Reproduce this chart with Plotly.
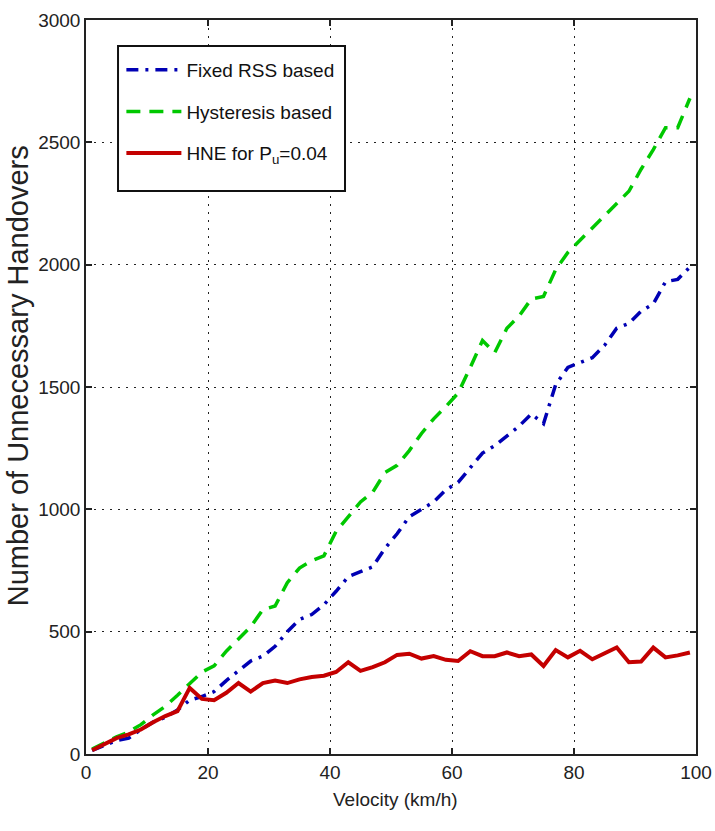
import plotly.graph_objects as go

velocity = list(range(1, 100, 2))

fixed_rss = [15, 35, 55, 65, 100, 130, 150, 180, 220, 235,
             255, 300, 340, 380, 400, 440, 500, 550, 570, 610,
             665, 725, 745, 765, 840, 900, 970, 1000, 1030, 1080,
             1110, 1170, 1230, 1260, 1300, 1340, 1390, 1350, 1510, 1580,
             1600, 1620, 1670, 1740, 1760, 1810, 1840, 1930, 1940, 1990]

hysteresis = [20, 45, 70, 90, 120, 160, 195, 240, 290, 335,
              360, 420, 470, 520, 590, 605, 700, 760, 790, 810,
              910, 970, 1030, 1070, 1150, 1180, 1240, 1310, 1370, 1420,
              1475, 1580, 1690, 1640, 1740, 1790, 1860, 1870, 1980, 2050,
              2100, 2150, 2200, 2250, 2300, 2390, 2470, 2560, 2560, 2680]

hne = [15, 40, 65, 80, 100, 130, 155, 175, 270, 225,
       220, 250, 290, 255, 290, 300, 290, 305, 315, 320,
       335, 375, 340, 355, 375, 405, 410, 390, 400, 385,
       380, 420, 400, 400, 415, 400, 407, 360, 425, 395,
       422, 387, 410, 435, 375, 378, 435, 395, 403, 415]

x_ticks = [0, 20, 40, 60, 80, 100]
y_ticks = [0, 500, 1000, 1500, 2000, 2500, 3000]

series_names = ["Fixed RSS based", "Hysteresis based", "HNE for P<sub>u</sub>=0.04"]

FONT = "Liberation Sans, Arial, sans-serif"

fig = go.Figure()
fig.add_trace(go.Scatter(x=velocity, y=fixed_rss, mode="lines", name=series_names[0],
                         legendgroup="a",
                         line=dict(color="#0000b4", width=3.5, dash="12px,7px,3px,7px")))
fig.add_trace(go.Scatter(x=velocity, y=hysteresis, mode="lines", name=series_names[1],
                         legendgroup="b",
                         line=dict(color="#00c800", width=3.5, dash="14px,9px")))
fig.add_trace(go.Scatter(x=velocity, y=hne, mode="lines", name=series_names[2],
                         legendgroup="c",
                         line=dict(color="#c40000", width=4)))

axis_common = dict(
    showline=True, linecolor="#222", linewidth=1.5, mirror="ticks",
    ticks="inside", ticklen=6, tickcolor="#222", tickwidth=1.5,
    showgrid=True, gridcolor="#222", gridwidth=1.2, griddash="2px,6px",
    zeroline=False, automargin=False,
    tickfont=dict(family=FONT, size=19, color="#222"),
)

fig.update_xaxes(range=[0, 100], tickvals=x_ticks, **axis_common)
fig.update_yaxes(range=[0, 3000], tickvals=y_ticks, **axis_common)

# legend box frame (white, drawn over grid, under legend entries)
fig.add_shape(type="rect", xref="paper", yref="paper",
              x0=0.0525, x1=0.4246, y0=0.767, y1=0.9646,
              line=dict(color="#111", width=2), fillcolor="white", layer="above")

# axis titles
fig.add_annotation(text="Velocity (km/h)", xref="paper", yref="paper",
                   x=0.508, y=-0.062, xanchor="center", yanchor="middle", showarrow=False,
                   font=dict(family=FONT, size=19, color="#222"))
fig.add_annotation(text="Number of Unnecessary Handovers", xref="paper", yref="paper",
                   x=-0.111, y=0.515, xanchor="center", yanchor="middle", showarrow=False,
                   textangle=-90, font=dict(family=FONT, size=29, color="#222"))

fig.update_layout(
    width=715, height=831,
    margin=dict(l=86, r=19, t=20, b=77),
    paper_bgcolor="white", plot_bgcolor="white",
    font=dict(family=FONT, size=18, color="#111"),
    legend=dict(x=0.058, y=0.958, xanchor="left", yanchor="top",
                bgcolor="rgba(0,0,0,0)", borderwidth=0,
                font=dict(family=FONT, size=19, color="#111"),
                itemwidth=55, tracegroupgap=14),
    showlegend=True,
)

fig.write_html("out.html", config={"displayModeBar": False},
               post_script="document.body.style.margin='0';")
